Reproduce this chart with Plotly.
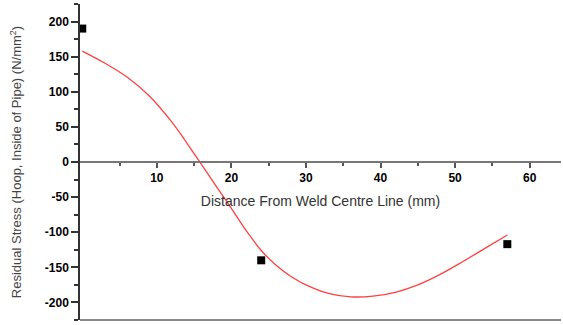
import plotly.graph_objects as go

# Measured data points
pts_x = [0, 24, 57]
pts_y = [190, -140, -117]

# Fitted curve
fit_x = [0, 3, 6, 9, 12, 15, 18, 20, 22, 24, 26, 28, 30, 33, 36, 39, 42, 45, 48, 51, 54, 57]
fit_y = [158, 141, 121, 94, 57, 12, -35, -66, -98, -126, -147, -163, -175, -187, -192, -191, -185.5, -175, -160, -142, -123, -104]

x_ticks = [10, 20, 30, 40, 50, 60]
x_minor = [5, 15, 25, 35, 45, 55]
y_ticks = [-200, -150, -100, -50, 0, 50, 100, 150, 200]
y_minor = [-225, -175, -125, -75, -25, 25, 75, 125, 175, 225]

x_range = [-0.3, 64.2]
y_range = [-225, 225]

fig = go.Figure()
fig.add_trace(go.Scatter(x=fit_x, y=fit_y, mode="lines",
                         line=dict(color="#ff4040", width=1.3, shape="spline", smoothing=1.0),
                         hoverinfo="skip", showlegend=False))
fig.add_trace(go.Scatter(x=pts_x, y=pts_y, mode="markers",
                         marker=dict(symbol="square", size=8, color="black"), showlegend=False, cliponaxis=False))

xpos = (0 - y_range[0]) / (y_range[1] - y_range[0])

fig.update_layout(
    width=563, height=325,
    margin=dict(l=80, r=2, t=4, b=5),
    paper_bgcolor="white", plot_bgcolor="white",
    font=dict(family="Liberation Sans, Arial, sans-serif", color="black"),
    xaxis=dict(
        range=x_range, anchor="free", position=xpos, side="bottom", automargin=False,
        showline=True, linecolor="#777", linewidth=1.5,
        showgrid=False, zeroline=False,
        tickmode="array", tickvals=x_ticks, ticktext=[str(v) for v in x_ticks],
        ticks="outside", ticklen=5, tickwidth=1.5, tickcolor="#555",
        tickfont=dict(size=12, color="black", family="Liberation Sans, Arial, sans-serif", weight="bold"),
        minor=dict(tickvals=x_minor, ticks="outside", ticklen=3, tickwidth=1.5, tickcolor="#555", showgrid=False),
        title=dict(text="Distance From Weld Centre Line (mm)", font=dict(size=14, color="#333"), standoff=11),
    ),
    yaxis=dict(
        range=y_range, automargin=False,
        showline=True, linecolor="#333", linewidth=1.5,
        showgrid=False, zeroline=False,
        tickmode="array", tickvals=y_ticks, ticktext=[str(v) for v in y_ticks],
        ticks="outside", ticklen=7, tickwidth=1.5, tickcolor="#333",
        tickfont=dict(size=12, color="black", family="Liberation Sans, Arial, sans-serif", weight="bold"),
        minor=dict(tickvals=y_minor, ticks="outside", ticklen=4, tickwidth=1.5, tickcolor="#333", showgrid=False),
        title=dict(text="Residual Stress (Hoop, Inside of Pipe) (N/mm<sup>2</sup>)", font=dict(size=13, color="#444"), standoff=20),
    ),
    shapes=[dict(type="line", xref="paper", yref="paper", x0=0, x1=1, y0=0, y1=0,
                 line=dict(color="#888", width=2))],
)

fig.write_html("out.html", config={"displayModeBar": False},
               post_script="document.body.style.margin='0';document.body.style.overflow='hidden';")
